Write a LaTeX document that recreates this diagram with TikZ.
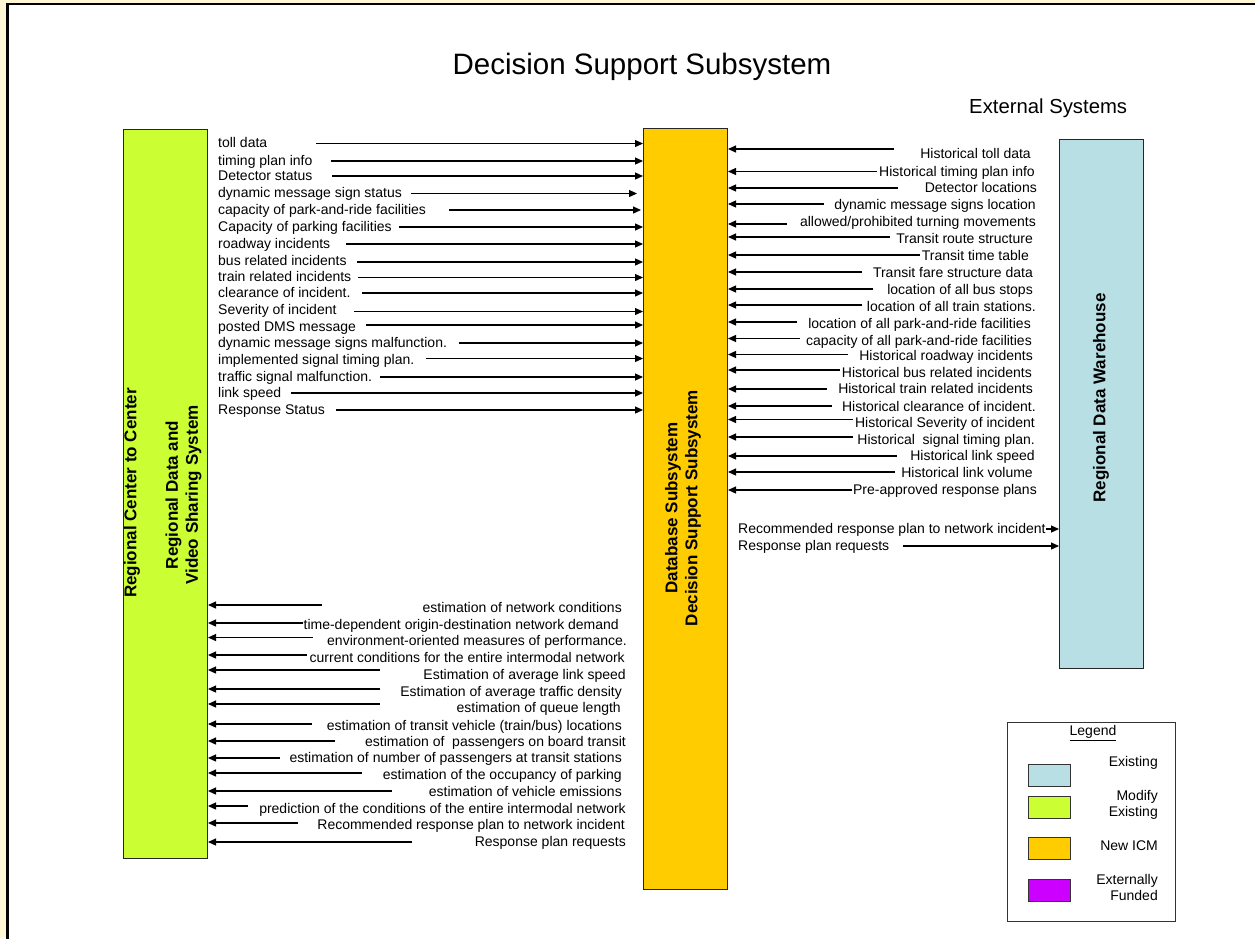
\documentclass[tikz,border=0pt]{standalone}
\usepackage{fontspec}
\setmainfont{Liberation Sans}
\usetikzlibrary{arrows.meta}
\definecolor{paper}{HTML}{FFF6D6}
\definecolor{modgreen}{HTML}{CCFF33}
\definecolor{icmorange}{HTML}{FFCC00}
\definecolor{exblue}{HTML}{B8E0E4}
\definecolor{extpurple}{HTML}{CC00FF}
\begin{document}
\begin{tikzpicture}[x=1pt,y=-1pt,
  lbl/.style={inner sep=0pt, font=\fontsize{14}{16}\selectfont, text height=11pt, text depth=2pt},
  legtxt/.style={inner sep=0pt, font=\fontsize{14}{16}\selectfont, align=right},
  arr/.style={line width=1.2pt, -{Triangle[length=8pt,width=7pt]}},
  sysbox/.style={draw=black!85, line width=1pt, anchor=north west, inner sep=0pt, minimum width=84pt},
  boxlbl/.style={font=\bfseries\fontsize{17}{20}\selectfont, rotate=90, align=center, inner sep=0pt},
  swatch/.style={draw=black!80, line width=1pt, anchor=north west, inner sep=0pt, minimum width=42pt, minimum height=22pt}
]
\useasboundingbox (0,0) rectangle (1255,938);
\clip (0,0) rectangle (1255,938);
% page background and frame
\fill[paper] (0,0) rectangle (1255,938);
\fill[white] (7.5,4) rectangle (1270,950);
\draw[line width=2.5pt] (7.5,950) -- (7.5,4) -- (1270,4);

% headings
\node[anchor=base, inner sep=0pt, font=\fontsize{29.5}{34}\selectfont] (title) at (642,74) {Decision Support Subsystem};
\node[anchor=base west, inner sep=0pt, font=\fontsize{20.3}{24}\selectfont] (ext) at (969,113) {External Systems};

% subsystem boxes
\node[sysbox, fill=modgreen, minimum height=729pt] (gbox) at (123,129) {};
\node[sysbox, fill=icmorange, minimum height=761pt] (obox) at (643,128) {};
\node[sysbox, fill=exblue, minimum height=529pt] (bbox) at (1059,139) {};

\node[boxlbl] (glbl1) at (132,493) {Regional Center to Center};
\node[boxlbl] (glbl2) at (183.5,495) {Regional Data and\\Video Sharing System};
\node[boxlbl] (olbl) at (683,508) {Database Subsystem\\Decision Support Subsystem};
\node[boxlbl] (blbl) at (1101,398) {Regional Data Warehouse};

% flows from the regional center into the decision support subsystem
\foreach \txt/\ty/\ly/\sx/\sh [count=\i] in {
  toll data/143/143.5/316/0,
  timing plan info/160.5/161/331/0,
  Detector status/176/176/332/0,
  dynamic message sign status/193/193.5/411/6,
  capacity of park-and-ride facilities/210/210/449/2,
  Capacity of parking facilities/227/227/399/0,
  roadway incidents/244/244/346/0,
  bus related incidents/260.5/262/357/0,
  train related incidents/276.5/277.5/358/0,
  clearance of incident./293/293/362/0,
  Severity of incident/310/311.5/354/0,
  posted DMS message/326.5/325/366/0,
  dynamic message signs malfunction./343/343/459/0,
  implemented signal timing plan./360/358.5/426/0,
  traffic signal malfunction./376.5/377/380/0,
  link speed/393/393/291/0,
  Response Status/410/410/336/0}
{
  \node[lbl, anchor=west] (in\i) at (218,\ty) {\txt};
  \coordinate (ins\i) at (\sx,\ly);
  \draw[arr, shorten >=\sh pt] (ins\i) -- (ins\i -| obox.west);
}

% historical data from the external systems
\foreach \txt/\ty/\ly/\sx/\rx [count=\i] in {
  Historical toll data/154/149/894/1031,
  Historical timing plan info/171.5/171.5/877/1035,
  Detector locations/188/188/898/1037,
  dynamic message signs location/205/204/824/1036,
  {allowed/prohibited turning movements}/222/224/787/1036,
  Transit route structure/239/237/890/1033,
  Transit time table/256/255/920/1029,
  Transit fare structure data/273/272/862/1033,
  location of all bus stops/290/289/873/1033,
  location of all train stations./307/305/862/1036,
  location of all park-and-ride facilities/324/322/797/1031,
  capacity of all park-and-ride facilities/340.5/338.5/800/1032,
  Historical roadway incidents/356/354.5/848/1033,
  Historical bus related incidents/372.5/370/840/1032,
  Historical train related incidents/389/389/827/1033,
  Historical clearance of incident./406.5/406/832/1036,
  Historical Severity of incident/423/419.5/853/1035,
  Historical\ \ signal timing plan./440/437/853/1035,
  Historical link speed/456/456/897/1035,
  Historical link volume/473/472/895/1033,
  Pre-approved response plans/490/490/852/1037}
{
  \node[lbl, anchor=east] (hist\i) at (\rx,\ty) {\txt};
  \coordinate (hs\i) at (\sx,\ly);
  \draw[arr] (hs\i) -- (hs\i -| obox.east);
}

% outputs to the data warehouse
\node[lbl, anchor=west] (out1) at (738,529) {Recommended response plan to network incident};
\node[lbl, anchor=west] (out2) at (738,546) {Response plan requests};
\coordinate (os1) at (1046,529);
\coordinate (os2) at (903,546);
\draw[arr] (os1) -- (os1 -| bbox.west);
\draw[arr] (os2) -- (os2 -| bbox.west);

% estimates returned to the regional center
\foreach \txt/\ty/\ly/\sx/\rx [count=\i] in {
  estimation of network conditions/608/605/322/622,
  time-dependent origin-destination network demand/625/623/303/619,
  environment-oriented measures of performance./641/637.5/313/627,
  current conditions for the entire intermodal network/658/655/307/625,
  Estimation of average link speed/675/670/380/626,
  Estimation of average traffic density/692/689/380/622,
  estimation of queue length/708/704/380/621,
  {estimation of transit vehicle (train/bus) locations}/726/724/312/622,
  estimation of\ \ passengers on board transit/742/741/335/626,
  estimation of number of passengers at transit stations/758/758/280/622,
  estimation of the occupancy of parking/775/773/362/622,
  estimation of vehicle emissions/792/791/392/622,
  prediction of the conditions of the entire intermodal network/809/806/248/626,
  Recommended response plan to network incident/825/823/298/625,
  Response plan requests/842/842/412/626}
{
  \node[lbl, anchor=east] (est\i) at (\rx,\ty) {\txt};
  \coordinate (es\i) at (\sx,\ly);
  \draw[arr] (es\i) -- (es\i -| gbox.east);
}

% legend
\node[draw=black!80, line width=1pt, anchor=north west, inner sep=0pt, minimum width=168pt, minimum height=199pt] (legend) at (1007,722) {};
\node[lbl] (legtitle) at (1093,731) {\underline{Legend}};
\node[swatch, fill=exblue] (sw1) at (1028,764) {};
\node[swatch, fill=modgreen] (sw2) at (1028,796) {};
\node[swatch, fill=icmorange] (sw3) at (1028,837) {};
\node[swatch, fill=extpurple] (sw4) at (1028,879) {};
\node[legtxt, anchor=east] (lt1) at (1158,763) {Existing};
\node[legtxt, anchor=east] (lt2) at (1158,805) {Modify\\Existing};
\node[legtxt, anchor=east] (lt3) at (1158,846) {New ICM};
\node[legtxt, anchor=east] (lt4) at (1158,887) {Externally\\Funded};
\end{tikzpicture}
\end{document}
